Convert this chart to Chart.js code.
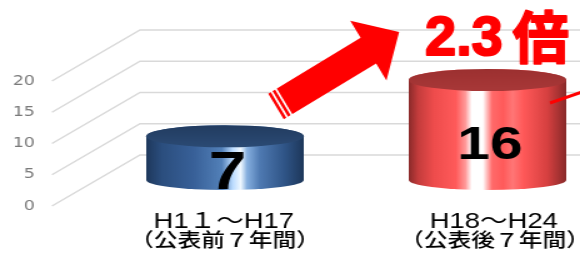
<!DOCTYPE html>
<html>
<head>
<meta charset="utf-8">
<script src="https://cdn.jsdelivr.net/npm/chart.js@4.4.0/dist/chart.umd.min.js"></script>
<style>
  html, body { margin: 0; padding: 0; background: #fff; overflow: hidden; }
  /* the original picture is stretched sideways, so the whole chart is too */
  #wrap { width: 512px; height: 264px; transform: scaleX(1.25); transform-origin: 0 0; }
</style>
</head>
<body>
<div id="wrap"><canvas id="c" width="512" height="264"></canvas></div>
<script>
// datos
const periodos = ['H1１～H17', 'H18～H24'];
const subtitulos = ['（公表前７年間）', '（公表後７年間）'];
const casos = [7, 16];
const ticksY = [0, 5, 10, 15, 20];

const STRETCH = 1.25;   // estiramiento horizontal
const DEPTH = 26;       // desplazamiento de la base del cilindro
const RY = 11;          // radio vertical de la elipse

// colores de los cilindros (azul, rojo)
const cuerpo = [
  [[0, '#1e385c'], [0.1, '#2b4e7e'], [0.3, '#386098'], [0.48, '#5280b8'], [0.55, '#bcdcff'], [0.6, '#f0f8ff'],
   [0.64, '#86afdf'], [0.72, '#4f7ab2'], [0.88, '#2f5486'], [1, '#1d375a']],
  [[0, '#8a2a2a'], [0.06, '#c43c3c'], [0.16, '#ee4c4c'], [0.3, '#ff5a5a'], [0.36, '#ff9a9a'], [0.4, '#ffffff'],
   [0.47, '#ffffff'], [0.53, '#ff6a6a'], [0.6, '#ff5a5a'], [0.66, '#ff7676'], [0.73, '#ff5858'], [0.88, '#d64040'], [1, '#882a2a']]
];
const tapa = [['#223c60', '#2b4a74'], ['#9c3030', '#a83838']];
const tamValor = [54, 47];
const desplEtiqueta = [-1, 5];

const cilindros = {
  id: 'cilindros',
  beforeDatasetsDraw(chart) {
    // rejilla en perspectiva
    const ctx = chart.ctx, y = chart.scales.y;
    ctx.save();
    ctx.strokeStyle = '#d9d9d9';
    ctx.lineWidth = 1.5;
    ticksY.forEach(v => {
      const yp = y.getPixelForValue(v);
      ctx.beginPath();
      ctx.moveTo(41.6, yp);
      ctx.lineTo(112, yp - 51);
      ctx.lineTo(chart.width, yp - 51);
      ctx.stroke();
    });
    ctx.restore();
  },
  afterDatasetsDraw(chart) {
    const ctx = chart.ctx;
    const meta = chart.getDatasetMeta(0);
    meta.data.forEach((bar, i) => {
      const cx = bar.x, rx = bar.width / 2;
      const top = bar.y - DEPTH, bottom = bar.base - DEPTH;
      ctx.save();
      let g = ctx.createLinearGradient(cx - rx, 0, cx + rx, 0);
      cuerpo[i].forEach(s => g.addColorStop(s[0], s[1]));
      ctx.beginPath();
      ctx.moveTo(cx - rx, top);
      ctx.lineTo(cx - rx, bottom);
      ctx.ellipse(cx, bottom, rx, RY - 1, 0, Math.PI, 0, true);
      ctx.lineTo(cx + rx, top);
      ctx.ellipse(cx, top, rx, RY, 0, 0, Math.PI, true);
      ctx.closePath();
      ctx.fillStyle = g;
      ctx.fill();
      let gt = ctx.createLinearGradient(0, top - RY, 0, top + RY);
      gt.addColorStop(0, tapa[i][0]);
      gt.addColorStop(1, tapa[i][1]);
      ctx.beginPath();
      ctx.ellipse(cx, top, rx, RY, 0, 0, Math.PI * 2);
      ctx.fillStyle = gt;
      ctx.fill();

      // valor
      const fs = tamValor[i];
      const centro = (top + bottom) / 2 + 12;
      ctx.fillStyle = '#000';
      ctx.font = 'bold ' + fs + 'px "Liberation Sans", Arial, sans-serif';
      ctx.textAlign = 'center';
      ctx.textBaseline = 'alphabetic';
      ctx.fillText(String(casos[i]), cx + 2, centro + fs * 0.358);

      // etiquetas del eje x
      const lx = cx + desplEtiqueta[i];
      ctx.font = '22px "Liberation Sans", "Noto Sans CJK JP", sans-serif';
      ctx.fillText(periodos[i], lx, 228);
      ctx.font = '500 19px "Noto Sans CJK JP", sans-serif';
      ctx.fillText(subtitulos[i], lx + 1, 247);
      ctx.restore();
    });
  },
  afterDraw(chart) {
    // flecha y "2.3倍" sin estirar
    const ctx = chart.ctx;
    ctx.save();
    ctx.scale(1 / STRETCH, 1);
    const tail = [276, 106.5], ux = 0.855, uy = -0.517, nx = 0.517, ny = 0.855;
    const P = (a, b) => [tail[0] + ux * a + nx * b, tail[1] + uy * a + ny * b];
    const pts = [P(0, -15), P(108, -15), P(108, -35), P(144, 0), P(108, 35), P(108, 15), P(0, 15)];
    ctx.fillStyle = '#ff0000';
    ctx.beginPath();
    pts.forEach((p, k) => k ? ctx.lineTo(p[0], p[1]) : ctx.moveTo(p[0], p[1]));
    ctx.closePath();
    ctx.fill();
    ctx.strokeStyle = '#fff';
    ctx.lineWidth = 2;
    [4, 9].forEach(d => {
      const a = P(d, -16), b = P(d, 16);
      ctx.beginPath();
      ctx.moveTo(a[0], a[1]);
      ctx.lineTo(b[0], b[1]);
      ctx.stroke();
    });

    // linea roja del borde derecho
    ctx.strokeStyle = '#ff0000';
    ctx.lineWidth = 3;
    ctx.beginPath();
    ctx.moveTo(550, 103);
    ctx.lineTo(582, 92);
    ctx.stroke();

    const ratio = (casos[1] / casos[0]).toFixed(1);
    ctx.fillStyle = '#ff0000';
    ctx.strokeStyle = '#ff0000';
    ctx.lineWidth = 2;
    ctx.lineJoin = 'round';
    ctx.textBaseline = 'alphabetic';
    ctx.textAlign = 'left';
    ctx.font = 'bold 56px "Liberation Sans", Arial, sans-serif';
    ctx.fillText(ratio, 425, 55);
    ctx.strokeText(ratio, 425, 55);
    const w = ctx.measureText(ratio).width;
    ctx.font = 'bold 56px "Noto Sans CJK JP", sans-serif';
    ctx.fillText('倍', 425 + w + 10, 58);
    ctx.strokeText('倍', 425 + w + 10, 58);
    ctx.restore();
  }
};

new Chart(document.getElementById('c'), {
  type: 'bar',
  data: {
    labels: periodos,
    datasets: [{
      data: casos,
      backgroundColor: 'rgba(0,0,0,0)',
      barPercentage: 0.6,
      categoryPercentage: 1
    }]
  },
  options: {
    responsive: false,
    animation: false,
    layout: { padding: { top: 81, bottom: 58, left: 0, right: 17 } },
    plugins: { legend: { display: false }, tooltip: { enabled: false } },
    scales: {
      x: { display: false },
      y: {
        min: 0,
        max: 20,
        afterFit(scale) { scale.width = 75; },
        ticks: {
          stepSize: 5,
          padding: 47,
          color: '#7a7a7a',
          font: { family: '"DejaVu Sans", sans-serif', size: 14 }
        },
        grid: { display: false, drawTicks: false },
        border: { display: false }
      }
    }
  },
  plugins: [cilindros]
});
</script>
</body>
</html>
